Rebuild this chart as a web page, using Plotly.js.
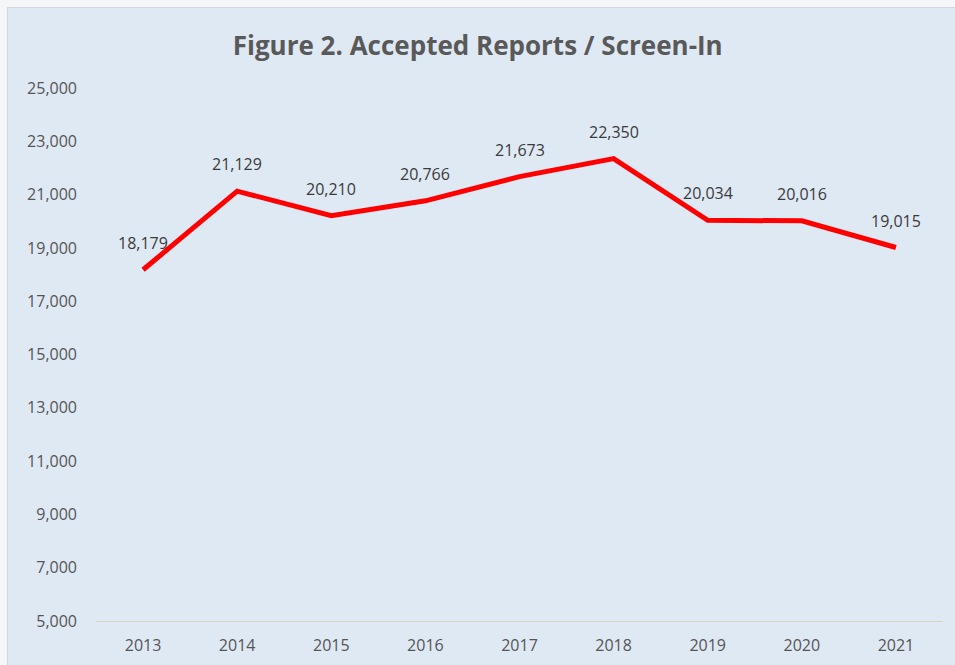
<!DOCTYPE html>
<html>
<head>
<meta charset="utf-8">
<script src="https://cdn.plot.ly/plotly-3.0.1.min.js"></script>
<style>
  html, body { margin: 0; padding: 0; background: #f4f6f8; width: 955px; height: 665px; overflow: hidden; }
  #chart { position: absolute; left: 7px; top: 7px; width: 948px; height: 658px; box-sizing: border-box; border-left: 1px solid #d3d7dc; border-top: 1px solid #d3d7dc; }
</style>
</head>
<body>
<div id="chart"></div>
<script>
const years = ['2013', '2014', '2015', '2016', '2017', '2018', '2019', '2020', '2021'];
const reports = [18179, 21129, 20210, 20766, 21673, 22350, 20034, 20016, 19015];
const yTicks = [5000, 7000, 9000, 11000, 13000, 15000, 17000, 19000, 21000, 23000, 25000];

const FONT = 'Open Sans, Liberation Sans, sans-serif';

const trace = {
  type: 'scatter',
  mode: 'lines',
  x: years,
  y: reports,
  line: { color: '#ff0000', width: 5 },
  hoverinfo: 'x+y'
};

const annotations = years.map((yr, i) => ({
  x: i, y: reports[i], xref: 'x', yref: 'y',
  text: reports[i].toLocaleString('en-US'),
  showarrow: false, yshift: 27,
  font: { family: FONT, size: 16, color: '#3a3a3a' }
}));

const layout = {
  width: 947, height: 657,
  paper_bgcolor: '#dfe9f4',
  plot_bgcolor: '#dfe9f4',
  margin: { l: 88, r: 12, t: 80, b: 44 },
  showlegend: false,
  title: {
    text: '<b>Figure 2. Accepted Reports / Screen-In</b>',
    font: { family: FONT, size: 26, color: '#595959' },
    x: 0.496, xanchor: 'center', y: 1 - 38 / 657, yanchor: 'middle', yref: 'container'
  },
  xaxis: {
    type: 'category',
    categoryorder: 'array', categoryarray: years,
    range: [-0.5, years.length - 0.5],
    showgrid: false,
    showline: true, linecolor: '#d8d2c6', linewidth: 1,
    ticks: '', ticklabelstandoff: 10,
    tickfont: { family: FONT, size: 16, color: '#555555' },
    zeroline: false
  },
  yaxis: {
    range: [5000, 25000],
    tickvals: yTicks,
    ticktext: yTicks.map(v => v.toLocaleString('en-US')),
    showgrid: false, zeroline: false, showline: false,
    ticks: '', ticklabelstandoff: 18,
    tickfont: { family: FONT, size: 16, color: '#555555' }
  },
  annotations: annotations
};

Plotly.newPlot('chart', [trace], layout, { displayModeBar: false, staticPlot: true });
</script>
</body>
</html>
